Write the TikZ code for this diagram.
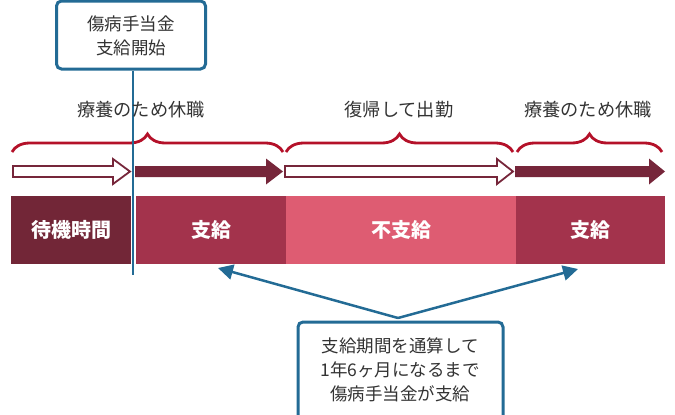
\documentclass[tikz,border=0pt]{standalone}
\usepackage{fontspec}
\setmainfont{Noto Sans CJK JP}
\usetikzlibrary{decorations.pathreplacing,arrows.meta}
\definecolor{cblue}{HTML}{236B95}
\definecolor{ctext}{HTML}{333333}
\definecolor{cbrace}{HTML}{B41129}
\definecolor{cdark}{HTML}{722637}
\definecolor{cmid}{HTML}{A3334C}
\definecolor{clight}{HTML}{DE5C72}
\definecolor{carrow}{HTML}{76263A}
\begin{document}
\begin{tikzpicture}[x=1pt,y=-1pt,
  infobox/.style={draw=cblue,line width=3pt,rounded corners=5pt,fill=white,inner sep=0pt},
  lbl/.style={text=ctext,font=\fontsize{17.5}{24}\selectfont,align=center,inner sep=0pt},
  toplbl/.style={text=ctext,font=\fontsize{18.2}{24}\selectfont,inner sep=0pt},
  bar/.style={anchor=north west,minimum height=68pt,inner sep=0pt,text=white,font=\fontsize{20}{24}\selectfont\bfseries},
  bracepath/.style={draw=cbrace,line width=2.8pt,decorate,decoration={brace,amplitude=18pt}},
  hollowarrow/.style={draw=carrow,line width=1.8pt,fill=white,line join=miter},
  fullarrow/.style={fill=carrow},
  pointer/.style={draw=cblue,line width=2.5pt,-{Triangle[length=15pt,width=15pt]}}
]
\useasboundingbox (0,0) rectangle (675,415);
\clip (0,0) rectangle (675,415);

% bars
\node[bar,fill=cdark,minimum width=120pt] (wait) at (11,196) {待機時間};
\node[bar,fill=cmid,minimum width=150pt] (pay1) at (136,196) {支給};
\node[bar,fill=clight,minimum width=230pt] (nopay) at (286,196) {不支給};
\node[bar,fill=cmid,minimum width=149pt] (pay2) at (516,196) {支給};

% arrows row
\path[hollowarrow] (13,166) -- (113,166) -- (113,159) -- (130,171.5) -- (113,184) -- (113,177) -- (13,177) -- cycle;
\path[fullarrow] (135,166) -- (266,166) -- (266,158.5) -- (283,171.5) -- (266,184.5) -- (266,177) -- (135,177) -- cycle;
\path[hollowarrow] (285,166) -- (497,166) -- (497,159) -- (513,171.5) -- (497,184) -- (497,177) -- (285,177) -- cycle;
\path[fullarrow] (515,166) -- (649,166) -- (649,158.5) -- (665,171.5) -- (649,184.5) -- (649,177) -- (515,177) -- cycle;

% braces
\draw[bracepath] (12,152) -- (283,152);
\draw[bracepath] (286,152) -- (513,152);
\draw[bracepath] (517,152) -- (662,152);

% top box and vertical line
\node[infobox,minimum width=149pt,minimum height=68pt] (start) at (131,35) {};
\coordinate (lineend) at (133,275);
\draw[cblue,line width=2pt] (start.south -| lineend) -- (lineend);
\node[lbl] (starttxt) at (131,36) {傷病手当金\\支給開始};

% labels above braces
\node[toplbl] (l1) at (141,110) {療養のため休職};
\node[toplbl] (l2) at (399,110) {復帰して出勤};
\node[toplbl] (l3) at (588,110) {療養のため休職};

% bottom box
\node[infobox,minimum width=205pt,minimum height=130pt,anchor=north] (note) at (400.5,320.5) {};
\node[lbl] (notetxt) at (400,370) {支給期間を通算して\\1年6ヶ月になるまで\\傷病手当金が支給};
\coordinate (meet) at (398,318);
\coordinate (tipl) at (218,268);
\coordinate (tipr) at (578,269);
\draw[pointer] (meet) -- (tipl);
\draw[pointer] (meet) -- (tipr);
\end{tikzpicture}
\end{document}
